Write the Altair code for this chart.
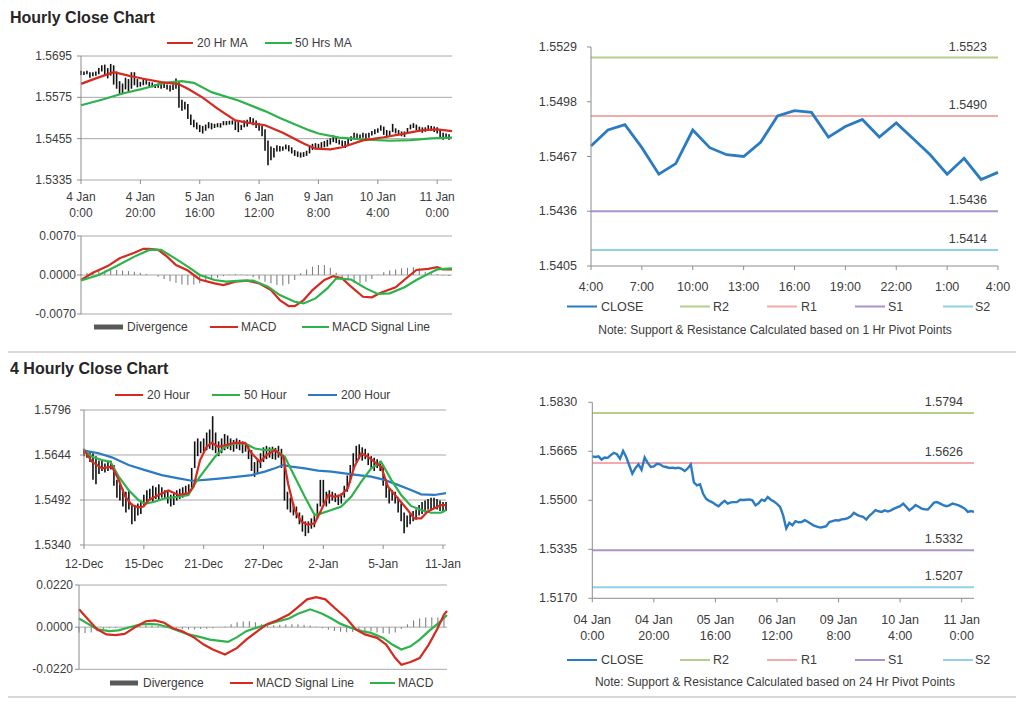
import altair as alt
import pandas as pd

# ====================== DATA ======================
# Hourly bars, 4 Jan 0:00 -> 11 Jan ~4:00
h_close = [1.5648, 1.5646, 1.5648, 1.5637, 1.5644, 1.5643, 1.5652, 1.5660, 1.5655, 1.5640,
           1.5666, 1.5646, 1.5618, 1.5590, 1.5608, 1.5621, 1.5603, 1.5644, 1.5626, 1.5612,
           1.5614, 1.5623, 1.5621, 1.5614, 1.5612, 1.5609, 1.5610, 1.5608, 1.5610, 1.5606,
           1.5599, 1.5607, 1.5621, 1.5560, 1.5550, 1.5554, 1.5522, 1.5505, 1.5498, 1.5493,
           1.5486, 1.5480, 1.5490, 1.5498, 1.5489, 1.5493, 1.5494, 1.5494, 1.5502, 1.5501,
           1.5502, 1.5503, 1.5500, 1.5483, 1.5490, 1.5502, 1.5498, 1.5511, 1.5502, 1.5496,
           1.5488, 1.5478, 1.5449, 1.5405, 1.5424, 1.5416, 1.5430, 1.5426, 1.5427, 1.5433,
           1.5428, 1.5421, 1.5415, 1.5411, 1.5408, 1.5410, 1.5413, 1.5427, 1.5430, 1.5433,
           1.5432, 1.5436, 1.5437, 1.5440, 1.5446, 1.5458, 1.5451, 1.5447, 1.5444, 1.5435,
           1.5448, 1.5457, 1.5467, 1.5463, 1.5461, 1.5466, 1.5462, 1.5466, 1.5472, 1.5476,
           1.5480, 1.5489, 1.5478, 1.5466, 1.5474, 1.5484, 1.5478, 1.5472, 1.5470, 1.5469,
           1.5480, 1.5492, 1.5494, 1.5489, 1.5484, 1.5480, 1.5483, 1.5489, 1.5486, 1.5483,
           1.5478, 1.5472, 1.5461, 1.5464, 1.5461]
h_high = [1.5652, 1.5650, 1.5652, 1.5648, 1.5648, 1.5650, 1.5660, 1.5668, 1.5670, 1.5660,
          1.5672, 1.5668, 1.5650, 1.5622, 1.5615, 1.5632, 1.5628, 1.5648, 1.5648, 1.5628,
          1.5620, 1.5628, 1.5626, 1.5620, 1.5618, 1.5614, 1.5615, 1.5613, 1.5615, 1.5612,
          1.5610, 1.5612, 1.5630, 1.5622, 1.5568, 1.5562, 1.5556, 1.5525, 1.5510, 1.5502,
          1.5495, 1.5492, 1.5496, 1.5503, 1.5500, 1.5498, 1.5500, 1.5500, 1.5506, 1.5506,
          1.5507, 1.5508, 1.5506, 1.5503, 1.5495, 1.5508, 1.5510, 1.5518, 1.5514, 1.5508,
          1.5500, 1.5492, 1.5482, 1.5450, 1.5432, 1.5428, 1.5436, 1.5434, 1.5432, 1.5438,
          1.5436, 1.5430, 1.5422, 1.5418, 1.5415, 1.5416, 1.5420, 1.5432, 1.5440, 1.5442,
          1.5440, 1.5445, 1.5448, 1.5452, 1.5456, 1.5465, 1.5460, 1.5452, 1.5450, 1.5448,
          1.5455, 1.5462, 1.5472, 1.5470, 1.5467, 1.5472, 1.5470, 1.5472, 1.5477, 1.5482,
          1.5485, 1.5494, 1.5490, 1.5480, 1.5478, 1.5498, 1.5485, 1.5480, 1.5476, 1.5476,
          1.5486, 1.5496, 1.5500, 1.5496, 1.5490, 1.5488, 1.5488, 1.5494, 1.5492, 1.5490,
          1.5488, 1.5480, 1.5472, 1.5470, 1.5468]
h_low = [1.5640, 1.5640, 1.5642, 1.5632, 1.5636, 1.5638, 1.5642, 1.5650, 1.5638, 1.5630,
         1.5638, 1.5612, 1.5600, 1.5582, 1.5584, 1.5598, 1.5592, 1.5600, 1.5610, 1.5604,
         1.5606, 1.5610, 1.5612, 1.5606, 1.5604, 1.5602, 1.5603, 1.5600, 1.5602, 1.5598,
         1.5592, 1.5596, 1.5600, 1.5545, 1.5536, 1.5540, 1.5512, 1.5495, 1.5488, 1.5482,
         1.5474, 1.5470, 1.5478, 1.5485, 1.5482, 1.5486, 1.5488, 1.5487, 1.5494, 1.5494,
         1.5496, 1.5496, 1.5480, 1.5474, 1.5480, 1.5488, 1.5490, 1.5500, 1.5494, 1.5486,
         1.5478, 1.5462, 1.5420, 1.5378, 1.5392, 1.5400, 1.5418, 1.5418, 1.5420, 1.5424,
         1.5418, 1.5412, 1.5405, 1.5402, 1.5400, 1.5402, 1.5405, 1.5412, 1.5422, 1.5424,
         1.5426, 1.5428, 1.5430, 1.5432, 1.5438, 1.5445, 1.5442, 1.5438, 1.5434, 1.5428,
         1.5436, 1.5448, 1.5456, 1.5454, 1.5452, 1.5458, 1.5454, 1.5458, 1.5464, 1.5468,
         1.5472, 1.5478, 1.5466, 1.5458, 1.5464, 1.5474, 1.5470, 1.5465, 1.5462, 1.5460,
         1.5470, 1.5482, 1.5486, 1.5480, 1.5476, 1.5472, 1.5475, 1.5480, 1.5478, 1.5474,
         1.5470, 1.5456, 1.5452, 1.5454, 1.5452]
h_ma20_x = [0, 5, 11, 16, 21, 27, 33, 36, 41, 46, 52, 57, 62, 68, 75, 79, 84, 88, 95, 102, 108, 115, 120, 125]
h_ma20 = [1.5614, 1.5630, 1.5648, 1.5638, 1.5629, 1.5619, 1.5613, 1.5600, 1.5574, 1.5542, 1.5508, 1.5500,
          1.5494, 1.5472, 1.5441, 1.5426, 1.5424, 1.5430, 1.5450, 1.5459, 1.5468, 1.5480, 1.5482, 1.5477]
h_ma50_x = [0, 7, 14, 20, 24, 28, 34, 38, 44, 53, 62, 67, 72, 77, 80, 87, 95, 104, 111, 118, 125]
h_ma50 = [1.5552, 1.5568, 1.5586, 1.5598, 1.5607, 1.5617, 1.5622, 1.5617, 1.5590, 1.5566, 1.5535,
          1.5515, 1.5497, 1.5479, 1.5470, 1.5458, 1.5453, 1.5449, 1.5451, 1.5456, 1.5458]
h_macd_x = [0, 4, 9, 13, 18, 21, 23, 26, 29, 32, 36, 40, 45, 48, 52, 56, 60, 64, 67, 70,
            72, 75, 78, 82, 85, 88, 91, 95, 98, 101, 106, 110, 113, 117, 120, 122, 125]
h_macd = [-0.0009, 0.0004, 0.0016, 0.0030, 0.0040, 0.0047, 0.0047, 0.0045, 0.0033, 0.0018,
          0.0008, -0.0008, -0.0015, -0.0018, -0.0012, -0.0010, -0.0015, -0.0027, -0.0045, -0.0056,
          -0.0056, -0.0045, -0.0027, -0.0009, -0.0002, -0.0006, -0.0021, -0.0039, -0.0040, -0.0032,
          -0.0022, -0.0004, 0.0009, 0.0011, 0.0014, 0.0010, 0.0010]
h_sig_x = [0, 6, 12, 18, 23, 27, 31, 36, 40, 45, 49, 54, 58, 63, 67, 72, 75, 79, 83, 86,
           91, 96, 100, 104, 109, 113, 117, 120, 125]
h_sig = [-0.0010, 0.0000, 0.0016, 0.0033, 0.0045, 0.0045, 0.0032, 0.0015, 0.0000, -0.0009,
         -0.0012, -0.0010, -0.0010, -0.0021, -0.0036, -0.0048, -0.0051, -0.0042, -0.0024, -0.0006,
         -0.0008, -0.0024, -0.0034, -0.0033, -0.0022, -0.0009, 0.0002, 0.0010, 0.0012]
h_div_x = list(range(0, 125, 2))
h_div = [0.0002, 0.0004, 0.0006, 0.0007, 0.0008, 0.0009, 0.0009, 0.0008, 0.0007, 0.0006,
         0.0004, 0.0002, 0.0000, -0.0003, -0.0007, -0.0011, -0.0014, -0.0017, -0.0018, -0.0017,
         -0.0015, -0.0012, -0.0009, -0.0005, -0.0002, 0.0001, 0.0002, 0.0001, -0.0001, -0.0004,
         -0.0008, -0.0012, -0.0015, -0.0018, -0.0019, -0.0016, -0.0009, 0.0003, 0.0010, 0.0015,
         0.0018, 0.0018, 0.0013, 0.0004, -0.0004, -0.0010, -0.0014, -0.0015, -0.0012, -0.0007,
         0.0001, 0.0005, 0.0008, 0.0010, 0.0012, 0.0013, 0.0014, 0.0012, 0.0006, 0.0003,
         0.0002, -0.0001, -0.0002]
h_xticks = [0, 20, 40, 60, 80, 100, 120]
h_xlab1 = ["4 Jan", "4 Jan", "5 Jan", "6 Jan", "9 Jan", "10 Jan", "11 Jan"]
h_xlab2 = ["0:00", "20:00", "16:00", "12:00", "8:00", "4:00", "0:00"]
h_yticks = [1.5335, 1.5455, 1.5575, 1.5695]
h_mticks = [-0.0070, 0.0, 0.0070]
h_legend = ["20 Hr MA", "50 Hrs MA"]
h_mlegend = ["Divergence", "MACD", "MACD Signal Line"]

# Last 24 hourly closes (4:00 -> 4:00)
d_close = [1.5473, 1.5482, 1.5485, 1.5472, 1.5457, 1.5463, 1.5482, 1.5472, 1.5468, 1.5467,
           1.5475, 1.5490, 1.5493, 1.5492, 1.5478, 1.5484, 1.5488, 1.5478, 1.5486, 1.5477,
           1.5468, 1.5457, 1.5466, 1.5454, 1.5458]
d_xticks = [0, 3, 6, 9, 12, 15, 18, 21, 24]
d_xlab = ["4:00", "7:00", "10:00", "13:00", "16:00", "19:00", "22:00", "1:00", "4:00"]
d_yticks = [1.5405, 1.5436, 1.5467, 1.5498, 1.5529]
d_levels = [1.5523, 1.5490, 1.5436, 1.5414]

# 4-hourly bars, 12 Dec -> 11 Jan
f_low = [1.5640, 1.5635, 1.5620, 1.5560, 1.5545, 1.5580, 1.5590, 1.5585, 1.5590, 1.5595,
         1.5540, 1.5500, 1.5490, 1.5470, 1.5450, 1.5460, 1.5410, 1.5420, 1.5440, 1.5445,
         1.5470, 1.5480, 1.5490, 1.5485, 1.5495, 1.5490, 1.5500, 1.5495, 1.5480, 1.5470,
         1.5475, 1.5490, 1.5495, 1.5500, 1.5505, 1.5510, 1.5530, 1.5600, 1.5640, 1.5650,
         1.5655, 1.5660, 1.5665, 1.5660, 1.5650, 1.5640, 1.5650, 1.5660, 1.5665, 1.5660,
         1.5655, 1.5665, 1.5660, 1.5650, 1.5655, 1.5630, 1.5590, 1.5570, 1.5580, 1.5600,
         1.5620, 1.5630, 1.5635, 1.5630, 1.5628, 1.5635, 1.5600, 1.5490, 1.5460, 1.5450,
         1.5440, 1.5430, 1.5410, 1.5385, 1.5370, 1.5380, 1.5395, 1.5400, 1.5430, 1.5470,
         1.5480, 1.5470, 1.5480, 1.5490, 1.5485, 1.5475, 1.5480, 1.5500, 1.5520, 1.5550,
         1.5590, 1.5620, 1.5630, 1.5625, 1.5630, 1.5610, 1.5600, 1.5590, 1.5600, 1.5590,
         1.5540, 1.5500, 1.5480, 1.5490, 1.5480, 1.5450, 1.5420, 1.5380, 1.5400, 1.5410,
         1.5420, 1.5425, 1.5440, 1.5445, 1.5450, 1.5460, 1.5455, 1.5465, 1.5460, 1.5455,
         1.5450, 1.5455]
f_high = [1.5665, 1.5660, 1.5655, 1.5650, 1.5640, 1.5625, 1.5630, 1.5615, 1.5620, 1.5625,
          1.5610, 1.5560, 1.5545, 1.5530, 1.5520, 1.5525, 1.5480, 1.5475, 1.5480, 1.5490,
          1.5510, 1.5525, 1.5530, 1.5540, 1.5535, 1.5545, 1.5535, 1.5525, 1.5520, 1.5510,
          1.5515, 1.5525, 1.5530, 1.5535, 1.5540, 1.5545, 1.5600, 1.5690, 1.5700, 1.5690,
          1.5700, 1.5720, 1.5730, 1.5775, 1.5720, 1.5690, 1.5700, 1.5715, 1.5710, 1.5700,
          1.5695, 1.5700, 1.5695, 1.5690, 1.5685, 1.5680, 1.5660, 1.5620, 1.5630, 1.5650,
          1.5670, 1.5675, 1.5670, 1.5672, 1.5668, 1.5675, 1.5665, 1.5640, 1.5520, 1.5500,
          1.5480, 1.5470, 1.5450, 1.5440, 1.5420, 1.5420, 1.5430, 1.5440, 1.5480, 1.5560,
          1.5560, 1.5520, 1.5525, 1.5520, 1.5515, 1.5510, 1.5515, 1.5540, 1.5575, 1.5610,
          1.5650, 1.5675, 1.5680, 1.5670, 1.5665, 1.5650, 1.5640, 1.5635, 1.5630, 1.5625,
          1.5610, 1.5560, 1.5530, 1.5525, 1.5520, 1.5500, 1.5480, 1.5450, 1.5440, 1.5445,
          1.5455, 1.5460, 1.5475, 1.5485, 1.5490, 1.5495, 1.5500, 1.5500, 1.5495, 1.5490,
          1.5485, 1.5485]
f_ma20_x = [0, 2.7, 6, 9.3, 11.6, 13.8, 16, 18.2, 19.9, 21.6, 24.9, 28.2, 31.6, 34.9, 36.6, 38.8, 41,
            42.7, 44.9, 47.1, 50.4, 53.8, 56, 58.8, 61, 63.8, 66.6, 68.2, 70.4, 72.7, 74.9, 77.1, 79.3,
            81.6, 83.8, 86, 88.2, 90.4, 92.7, 94.9, 97.1, 99.3, 101.6, 104.9, 108.2, 110.4, 112.7,
            114.9, 117.1, 119.3, 121]
f_ma20 = [1.5661, 1.5621, 1.5599, 1.5605, 1.5560, 1.5503, 1.5475, 1.5467, 1.5470, 1.5492, 1.5509,
          1.5524, 1.5509, 1.5515, 1.5537, 1.5627, 1.5672, 1.5685, 1.5672, 1.5677, 1.5685, 1.5685,
          1.5650, 1.5621, 1.5644, 1.5661, 1.5638, 1.5548, 1.5458, 1.5419, 1.5408, 1.5413, 1.5458,
          1.5509, 1.5503, 1.5509, 1.5532, 1.5605, 1.5650, 1.5638, 1.5621, 1.5605, 1.5537, 1.5498,
          1.5458, 1.5430, 1.5430, 1.5453, 1.5464, 1.5475, 1.5475]
f_ma50_x = [0, 2.7, 6, 8.8, 11.6, 14.9, 18.2, 20.4, 23.8, 27.1, 31.6, 34.9, 37.1, 40.4, 43.8, 47.1,
            50.4, 53.8, 57.1, 60.4, 63.8, 67.1, 70.4, 73.8, 77.1, 79.3, 82.7, 86, 89.3, 92.7, 96,
            99.3, 102.7, 106, 109.3, 112.7, 116, 119.3, 121]
f_ma50 = [1.5661, 1.5638, 1.5627, 1.5621, 1.5571, 1.5526, 1.5492, 1.5479, 1.5487, 1.5498,
          1.5503, 1.5509, 1.5548, 1.5593, 1.5638, 1.5672, 1.5683, 1.5683, 1.5666, 1.5661,
          1.5661, 1.5638, 1.5571, 1.5503, 1.5441, 1.5447, 1.5458, 1.5470, 1.5503, 1.5554,
          1.5599, 1.5621, 1.5560, 1.5509, 1.5472, 1.5458, 1.5449, 1.5449, 1.5458]
f_ma200_x = [0, 4.9, 9.3, 14.9, 20.4, 26, 31.6, 36, 40.4, 46, 51.6, 56, 60.4, 63.8, 66.6, 69.3,
             73.8, 78.2, 82.7, 87.1, 91.6, 96, 100.4, 104.9, 109.3, 112.7, 117.1, 121]
f_ma200 = [1.5659, 1.5650, 1.5636, 1.5610, 1.5593, 1.5576, 1.5565, 1.5557, 1.5560, 1.5565,
           1.5571, 1.5576, 1.5588, 1.5599, 1.5610, 1.5605, 1.5599, 1.5591, 1.5588, 1.5582,
           1.5576, 1.5571, 1.5560, 1.5543, 1.5526, 1.5511, 1.5509, 1.5515]
f_sig_x = [0, 3, 6, 9, 12, 15, 19, 22, 25, 28, 31, 34, 38, 41, 44, 48, 52, 55, 59, 62,
           65, 69, 72, 75, 78, 81, 84, 88, 91, 94, 98, 101, 104, 106, 109, 112, 115, 118, 120, 121]
f_sig = [0.0093, 0.0040, -0.0012, -0.0038, -0.0042, -0.0035, 0.0005, 0.0031, 0.0035, 0.0023,
         -0.0007, -0.0021, -0.0056, -0.0091, -0.0117, -0.0143, -0.0108, -0.0065, -0.0017, 0.0017,
         0.0035, 0.0066, 0.0105, 0.0145, 0.0157, 0.0145, 0.0101, 0.0045, -0.0012, -0.0038,
         -0.0056, -0.0091, -0.0161, -0.0196, -0.0182, -0.0161, -0.0091, -0.0003, 0.0066, 0.0084]
f_macd_x = [0, 3, 6, 10, 13, 16, 20, 23, 26, 30, 33, 36, 40, 43, 49, 52, 55, 59, 62, 65,
            69, 72, 75, 76, 80, 83, 86, 90, 93, 96, 100, 103, 106, 109, 112, 115, 119, 121]
f_macd = [0.0045, 0.0017, -0.0012, -0.0021, -0.0017, -0.0003, 0.0014, 0.0017, 0.0014, -0.0003,
          -0.0021, -0.0038, -0.0052, -0.0065, -0.0077, -0.0052, -0.0021, 0.0000, 0.0014, 0.0028,
          0.0045, 0.0070, 0.0087, 0.0093, 0.0070, 0.0045, 0.0017, -0.0007, -0.0021, -0.0030,
          -0.0056, -0.0091, -0.0117, -0.0100, -0.0065, -0.0021, 0.0031, 0.0063]
f_div_x = list(range(0, 121, 2))
f_div = [-0.0028, -0.0030, -0.0028, -0.0022, -0.0012, -0.0006, -0.0004, -0.0002, 0.0002, 0.0005,
         0.0008, 0.0010, 0.0009, 0.0006, 0.0003, -0.0004, -0.0008, -0.0010, -0.0012, -0.0012,
         -0.0010, -0.0008, -0.0006, -0.0002, 0.0004, 0.0015, 0.0025, 0.0030, 0.0031, 0.0026,
         0.0015, 0.0008, 0.0010, 0.0012, 0.0014, 0.0015, 0.0015, 0.0012, 0.0008, 0.0002,
         -0.0006, -0.0014, -0.0020, -0.0024, -0.0026, -0.0025, -0.0022, -0.0020, -0.0022, -0.0028,
         -0.0032, -0.0034, -0.0028, -0.0010, 0.0015, 0.0035, 0.0045, 0.0050, 0.0052, 0.0050,
         0.0045]
f_xticks = [0, 20, 40, 60, 80, 100, 120]
f_xlab = ["12-Dec", "15-Dec", "21-Dec", "27-Dec", "2-Jan", "5-Jan", "11-Jan"]
f_yticks = [1.5340, 1.5492, 1.5644, 1.5796]
f_mticks = [-0.0220, 0.0, 0.0220]
f_legend = ["20 Hour", "50 Hour", "200 Hour"]
f_mlegend = ["Divergence", "MACD Signal Line", "MACD"]

# Week view of hourly closes (uses h_close)
w_xticks = [0, 20, 40, 60, 80, 100, 120]
w_xlab1 = ["04 Jan", "04 Jan", "05 Jan", "06 Jan", "09 Jan", "10 Jan", "11 Jan"]
w_xlab2 = ["0:00", "20:00", "16:00", "12:00", "8:00", "4:00", "0:00"]
w_yticks = [1.5170, 1.5335, 1.5500, 1.5665, 1.5830]
w_levels = [1.5794, 1.5626, 1.5332, 1.5207]

level_names = ["R2", "R1", "S1", "S2"]
close_name = "CLOSE"
titles = ["Hourly Close Chart", "4 Hourly Close Chart"]
notes = ["Note: Support & Resistance Calculated based on 1 Hr Pivot Points",
         "Note: Support & Resistance Calculated based on 24 Hr Pivot Points"]

# ====================== STYLE / LAYOUT ======================
OFF = 8
W, H = 1008, 690
FONT = "Liberation Sans"
TXT = "#3c3c3c"
GRID = "#a8a8a8"
AXC = "#8c8c8c"
RED = "#d52a1f"
GREEN = "#2eb34c"
BLUE = "#2b7bc3"
BLACK = "#111111"
DIVC = "#808080"
LEVEL_COLORS = ["#b5cf8a", "#f2aaaa", "#a995cc", "#8fd2e8"]

ONE = pd.DataFrame({"k": [0]})


def px(v):
    return v - OFF


def sc(dom, rng):
    return alt.Scale(domain=dom, range=[px(rng[0]), px(rng[1])], nice=False, zero=False)


def ex(p, f):
    return alt.X(f"{f}:Q", scale=sc(p["xd"], p["xr"]), axis=None)


def ey(p, f):
    return alt.Y(f"{f}:Q", scale=sc(p["yd"], p["yr"]), axis=None)


def seg(x0, x1, y0, y1, color, w=1.0):
    return alt.Chart(ONE).mark_rule(color=color, strokeWidth=w).encode(
        x=alt.value(px(x0)), x2=alt.value(px(x1)), y=alt.value(px(y0)), y2=alt.value(px(y1)))


def txt(s, x, y, size=12, align="left", weight="normal", color=TXT):
    return alt.Chart(ONE).mark_text(text=s, align=align, baseline="middle", font=FONT,
                                    fontSize=size, fontWeight=weight, color=color).encode(
        x=alt.value(px(x)), y=alt.value(px(y)))


def hlines(p, vals, color, w=1.0):
    df = pd.DataFrame({"v": vals})
    return alt.Chart(df).mark_rule(color=color, strokeWidth=w).encode(
        y=ey(p, "v"), x=alt.value(px(p["xr"][0])), x2=alt.value(px(p["xr"][1])))


def ylabels(p, vals, gap, size=12):
    df = pd.DataFrame({"v": vals, "t": [f"{v:.4f}" for v in vals]})
    x0 = px(p["xr"][0])
    ticks = alt.Chart(df).mark_rule(color=AXC, strokeWidth=1).encode(
        y=ey(p, "v"), x=alt.value(x0 - 4), x2=alt.value(x0))
    labels = alt.Chart(df).mark_text(align="right", baseline="middle", font=FONT,
                                     fontSize=size, color=TXT).encode(
        y=ey(p, "v"), x=alt.value(x0 - gap), text="t:N")
    return [ticks, labels]


def xlabels(p, idx, rows, ys, size=12):
    cols = {"i": idx}
    for k, r in enumerate(rows):
        cols[f"t{k}"] = r
    df = pd.DataFrame(cols)
    y0 = px(p["yr"][0])
    out = [alt.Chart(df).mark_rule(color=AXC, strokeWidth=1).encode(
        x=ex(p, "i"), y=alt.value(y0), y2=alt.value(y0 + 4))]
    for k, yy in enumerate(ys):
        out.append(alt.Chart(df).mark_text(align="center", baseline="middle", font=FONT,
                                           fontSize=size, color=TXT).encode(
            x=ex(p, "i"), y=alt.value(px(yy)), text=f"t{k}:N"))
    return out


def line(p, xs, ys, color, w=2.0):
    df = pd.DataFrame({"x": list(xs), "y": ys})
    return alt.Chart(df).mark_line(color=color, strokeWidth=w).encode(x=ex(p, "x"), y=ey(p, "y"))


def candles(p, lo, hi):
    df = pd.DataFrame({"i": list(range(len(lo))), "lo": lo, "hi": hi})
    return alt.Chart(df).mark_rule(color=BLACK, strokeWidth=1.6).encode(
        x=ex(p, "i"), y=ey(p, "lo"), y2="hi:Q")


def bars(p, idx, vals):
    df = pd.DataFrame({"i": idx, "v": vals})
    return alt.Chart(df).mark_rule(color=DIVC, strokeWidth=1.1).encode(
        x=ex(p, "i"), y=ey(p, "v"), y2=alt.datum(0))


def levels(p, vals, tx):
    df = pd.DataFrame({"name": level_names, "v": vals, "t": [f"{v:.4f}" for v in vals]})
    col = alt.Color("name:N", scale=alt.Scale(domain=level_names, range=LEVEL_COLORS), legend=None)
    r = alt.Chart(df).mark_rule(strokeWidth=2).encode(
        y=ey(p, "v"), x=alt.value(px(p["xr"][0])), x2=alt.value(px(p["xr"][1])), color=col)
    t = alt.Chart(df).mark_text(align="right", baseline="middle", dy=-11, font=FONT,
                                fontSize=12.5, color=TXT).encode(
        y=ey(p, "v"), x=alt.value(px(tx)), text="t:N")
    return [r, t]


def frame(p, bottom=True):
    out = [seg(p["xr"][0], p["xr"][0], p["yr"][0], p["yr"][1], AXC)]
    if bottom:
        out.append(seg(p["xr"][0], p["xr"][1], p["yr"][0], p["yr"][0], AXC))
    return out


# panel geometry (page pixels)
P1 = dict(xd=[0, 125], xr=[81, 452], yd=[1.5335, 1.5695], yr=[180, 56])
P2 = dict(xd=[0, 125], xr=[81, 452], yd=[-0.007, 0.007], yr=[314, 236])
P3 = dict(xd=[0, 24], xr=[591, 998], yd=[1.5405, 1.5529], yr=[266, 47])
P4 = dict(xd=[0, 124], xr=[592.3, 974], yd=[1.5170, 1.5830], yr=[598.3, 402.3])
P5 = dict(xd=[0, 121], xr=[84, 446], yd=[1.5340, 1.5796], yr=[545, 410])
P6 = dict(xd=[0, 121], xr=[79, 447], yd=[-0.022, 0.022], yr=[669.3, 585])

p1 = alt.layer(
    hlines(P1, h_yticks, GRID),
    candles(P1, h_low, h_high),
    line(P1, h_ma50_x, h_ma50, GREEN, 2.2),
    line(P1, h_ma20_x, h_ma20, RED, 2.2),
    *ylabels(P1, h_yticks, 9),
    *xlabels(P1, h_xticks, [h_xlab1, h_xlab2], [197, 213]),
)
p2 = alt.layer(
    hlines(P2, h_mticks, GRID),
    bars(P2, h_div_x, h_div),
    line(P2, h_macd_x, h_macd, RED, 2.2),
    line(P2, h_sig_x, h_sig, GREEN, 2.2),
    *ylabels(P2, h_mticks, 5),
)
p3 = alt.layer(
    *levels(P3, d_levels, 987),
    line(P3, range(len(d_close)), d_close, BLUE, 2.8),
    *ylabels(P3, d_yticks, 14, 12.5),
    *xlabels(P3, d_xticks, [d_xlab], [287], 12.5),
)
p4 = alt.layer(
    *levels(P4, w_levels, 963),
    line(P4, range(len(h_close)), h_close, BLUE, 2.4),
    *ylabels(P4, w_yticks, 15, 12.5),
    *xlabels(P4, w_xticks, [w_xlab1, w_xlab2], [620, 636], 12.5),
)
p5 = alt.layer(
    hlines(P5, f_yticks, GRID),
    candles(P5, f_low, f_high),
    line(P5, f_ma200_x, f_ma200, BLUE, 2.2),
    line(P5, f_ma50_x, f_ma50, GREEN, 2.2),
    line(P5, f_ma20_x, f_ma20, RED, 2.2),
    *ylabels(P5, f_yticks, 13),
    *xlabels(P5, f_xticks, [f_xlab], [564]),
)
p6 = alt.layer(
    hlines(P6, f_mticks, GRID),
    bars(P6, f_div_x, f_div),
    line(P6, f_macd_x, f_macd, GREEN, 2.2),
    line(P6, f_sig_x, f_sig, RED, 2.2),
    *ylabels(P6, f_mticks, 6),
)

static = [
    txt(titles[0], 10, 17.5, size=16, weight="bold", color="#262626"),
    txt(titles[1], 10, 369, size=16, weight="bold", color="#262626"),
    seg(OFF, W + OFF, 352, 352, "#b4b4b4", 1.2),
    seg(OFF, W + OFF, 697, 697, "#b4b4b4", 1.2),
    *frame(P1, bottom=False), *frame(P2, bottom=False),
    *frame(P3), *frame(P4),
    *frame(P5, bottom=False), *frame(P6, bottom=False),
    # top-left price legend
    seg(167, 193, 43, 43, RED, 2), txt(h_legend[0], 197, 43),
    seg(265, 292, 43, 43, GREEN, 2), txt(h_legend[1], 295, 43),
    # top MACD legend
    seg(94, 123, 327, 327, "#595959", 5), txt(h_mlegend[0], 127, 327),
    seg(210, 238, 327, 327, RED, 2), txt(h_mlegend[1], 241, 327),
    seg(302, 329, 327, 327, GREEN, 2), txt(h_mlegend[2], 332, 327),
    # bottom price legend
    seg(115, 143, 395, 395, RED, 2), txt(f_legend[0], 147, 395),
    seg(212, 240, 395, 395, GREEN, 2), txt(f_legend[1], 244, 395),
    seg(308, 337, 395, 395, BLUE, 2), txt(f_legend[2], 341, 395),
    # bottom MACD legend
    seg(110, 138, 683, 683, "#595959", 5), txt(f_mlegend[0], 143, 683),
    seg(230, 253, 683, 683, RED, 2), txt(f_mlegend[1], 256, 683),
    seg(370, 395, 683, 683, GREEN, 2), txt(f_mlegend[2], 398, 683),
]

# right-hand legends + notes
for ly, ny, note in [(306.5, 330, notes[0]), (660, 682, notes[1])]:
    static += [seg(567, 597, ly, ly, BLUE, 2), txt(close_name, 601, ly, 12.5)]
    for (x0, x1, xt), nm, c in zip([(680, 710, 713), (767, 797, 801), (855, 885, 888), (943, 973, 975)],
                                   level_names, LEVEL_COLORS):
        static += [seg(x0, x1, ly, ly, c, 2), txt(nm, xt, ly, 12.5)]
    static.append(txt(note, 775, ny, 12, align="center"))

chart = alt.layer(p1, p2, p3, p4, p5, p6, *static).resolve_scale(
    x="independent", y="independent", color="independent"
).properties(
    width=W, height=H, autosize=alt.AutoSizeParams(type="none"), padding=0, background="white"
).configure_view(strokeWidth=0)

chart.save("out.html", embed_options={"renderer": "svg", "actions": False})
